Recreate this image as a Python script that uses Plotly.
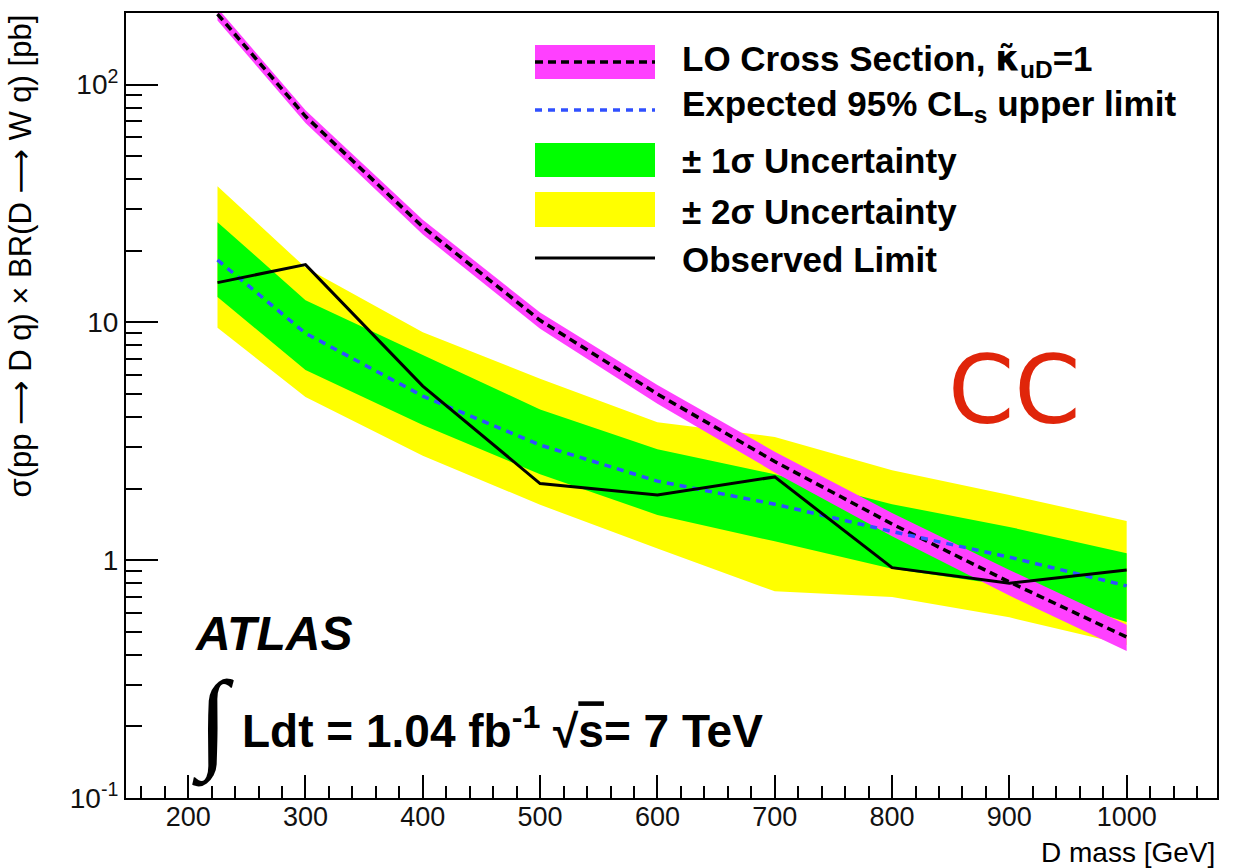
import plotly.graph_objects as go

# ---------------- data ----------------
mass = [225, 300, 400, 500, 600, 700, 800, 900, 1000]

lo_xsec = [198, 73.5, 25.2, 10.2, 5.0, 2.6, 1.42, 0.81, 0.475]
lo_xsec_up = [210, 78.0, 27.0, 11.0, 5.45, 2.86, 1.58, 0.91, 0.535]
lo_xsec_dn = [186, 69.0, 23.4, 9.4, 4.55, 2.34, 1.26, 0.71, 0.415]

exp_limit = [18.3, 9.0, 4.9, 3.05, 2.15, 1.72, 1.32, 1.03, 0.78]
obs_limit = [14.7, 17.5, 5.4, 2.1, 1.88, 2.24, 0.93, 0.80, 0.91]

one_sigma_up = [26.4, 12.4, 7.3, 4.3, 2.93, 2.3, 1.72, 1.38, 1.07]
one_sigma_dn = [12.8, 6.3, 3.7, 2.3, 1.55, 1.2, 0.92, 0.78, 0.55]
two_sigma_up = [37.4, 17.0, 9.1, 5.8, 3.8, 3.3, 2.39, 1.88, 1.46]
two_sigma_dn = [9.5, 4.85, 2.75, 1.71, 1.12, 0.74, 0.70, 0.575, 0.44]

x_ticks = [200, 300, 400, 500, 600, 700, 800, 900, 1000]
y_ticks = [0.1, 1, 10, 100]
y_tick_text = ["10<sup>-1</sup>", "1", "10", "10<sup>2</sup>"]
y_minor = [m * d for d in (0.1, 1, 10) for m in range(2, 10)] + [200]

legend_labels = [
    "LO Cross Section, <span style='font-family:DejaVu Sans'>κ̃</span><sub>uD</sub>=1",
    "Expected 95% CL<sub>s</sub> upper limit",
    "± 1σ Uncertainty",
    "± 2σ Uncertainty",
    "Observed Limit",
]

# ---------------- styling ----------------
FONT = "Liberation Sans, Arial, Helvetica, sans-serif"
W, H = 1237, 868
L, R, T, B = 126, 1217, 13, 798   # frame edges in pixels

MAGENTA = "#ff40ff"
GREEN = "#00ff00"
YELLOW = "#ffff00"
BLUE = "#3050ff"


def px(x):
    return (x - L) / (R - L)


def py(y):
    return (B - y) / (B - T)


def band(lo, hi, color):
    return go.Scatter(
        x=mass + mass[::-1], y=hi + lo[::-1], fill="toself",
        fillcolor=color, line=dict(width=0), mode="lines",
        hoverinfo="skip", showlegend=False)


fig = go.Figure()
fig.add_trace(band(two_sigma_dn, two_sigma_up, YELLOW))
fig.add_trace(band(one_sigma_dn, one_sigma_up, GREEN))
fig.add_trace(band(lo_xsec_dn, lo_xsec_up, MAGENTA))
fig.add_trace(go.Scatter(x=mass, y=lo_xsec, mode="lines",
                         line=dict(color="black", width=3.5, dash="8px,5px"),
                         showlegend=False))
fig.add_trace(go.Scatter(x=mass, y=exp_limit, mode="lines",
                         line=dict(color=BLUE, width=3.5, dash="7px,6px"),
                         showlegend=False))
fig.add_trace(go.Scatter(x=mass, y=obs_limit, mode="lines",
                         line=dict(color="black", width=3),
                         showlegend=False))

# ---------------- legend (drawn by hand) ----------------
shapes = []
annotations = []
sw_x0, sw_x1 = 535, 655
text_x = 680
rows_y = [62, 110, 160, 210, 258]

shapes.append(dict(type="rect", xref="paper", yref="paper",
                   x0=px(sw_x0), x1=px(sw_x1), y0=py(79), y1=py(45),
                   fillcolor=MAGENTA, line=dict(width=0)))
shapes.append(dict(type="line", xref="paper", yref="paper",
                   x0=px(sw_x0), x1=px(sw_x1), y0=py(rows_y[0]), y1=py(rows_y[0]),
                   line=dict(color="black", width=3.5, dash="8px,5px")))
shapes.append(dict(type="line", xref="paper", yref="paper",
                   x0=px(sw_x0), x1=px(sw_x1), y0=py(rows_y[1]), y1=py(rows_y[1]),
                   line=dict(color=BLUE, width=3.5, dash="7px,6px")))
shapes.append(dict(type="rect", xref="paper", yref="paper",
                   x0=px(sw_x0), x1=px(sw_x1), y0=py(177), y1=py(143),
                   fillcolor=GREEN, line=dict(width=0)))
shapes.append(dict(type="rect", xref="paper", yref="paper",
                   x0=px(sw_x0), x1=px(sw_x1), y0=py(227), y1=py(192),
                   fillcolor=YELLOW, line=dict(width=0)))
shapes.append(dict(type="line", xref="paper", yref="paper",
                   x0=px(sw_x0), x1=px(sw_x1), y0=py(rows_y[4]), y1=py(rows_y[4]),
                   line=dict(color="black", width=3)))

for label, yc in zip(legend_labels, [61, 106, 161, 211, 259]):
    annotations.append(dict(xref="paper", yref="paper", x=px(text_x), y=py(yc),
                            xanchor="left", yanchor="middle", showarrow=False,
                            text="<b>" + label + "</b>",
                            font=dict(family=FONT, size=35, color="black")))

# ---------------- labels ----------------
annotations.append(dict(xref="paper", yref="paper", x=px(193), y=py(633),
                        xanchor="left", yanchor="middle", showarrow=False,
                        text="<b><i>ATLAS</i></b>",
                        font=dict(family=FONT, size=48, color="black")))
annotations.append(dict(xref="paper", yref="paper", x=px(190), y=py(723),
                        xanchor="left", yanchor="middle", showarrow=False,
                        text="∫", font=dict(family="Liberation Serif", size=110, color="black")))
annotations.append(dict(xref="paper", yref="paper", x=px(240), y=py(728),
                        xanchor="left", yanchor="middle", showarrow=False,
                        text="<b>Ldt = 1.04 fb<sup>-1</sup> √<span style='text-decoration:overline'>s</span>= 7 TeV</b>",
                        font=dict(family=FONT, size=46, color="black")))
annotations.append(dict(xref="paper", yref="paper", x=px(1014), y=py(390),
                        xanchor="center", yanchor="middle", showarrow=False,
                        text="CC", font=dict(family="DejaVu Sans", size=95, color="#e0250a")))
annotations.append(dict(xref="paper", yref="paper", x=1.0, y=py(852),
                        xanchor="right", yanchor="middle", showarrow=False,
                        text="D mass [GeV]", font=dict(family=FONT, size=28, color="black")))
arrow = "<span style='font-family:DejaVu Sans'>⟶</span>"
annotations.append(dict(xref="paper", yref="paper", x=px(19), y=1.0,
                        xanchor="center", yanchor="top", showarrow=False, textangle=-90,
                        text=f"σ(pp {arrow} D q) × BR(D {arrow} W q) [pb]",
                        font=dict(family=FONT, size=31, color="black")))

fig.update_layout(
    width=W, height=H,
    margin=dict(l=L, r=W - R, t=T, b=H - B, pad=0),
    paper_bgcolor="white", plot_bgcolor="white",
    showlegend=False,
    shapes=shapes, annotations=annotations,
    xaxis=dict(range=[147, 1077], tickvals=x_ticks, ticks="inside", ticklen=23,
               tickwidth=1.5, tickcolor="black", showline=True, mirror=True,
               linecolor="black", linewidth=2, showgrid=False, zeroline=False,
               ticklabelstandoff=-6,
               tickfont=dict(family=FONT, size=27, color="#111"),
               minor=dict(dtick=20, tick0=0, ticks="inside", ticklen=12,
                          tickwidth=1.5, tickcolor="black", showgrid=False)),
    yaxis=dict(type="log", range=[-1, 2.30103], tickvals=y_ticks, ticktext=y_tick_text,
               ticks="inside", ticklen=32, tickwidth=1.5, tickcolor="black",
               showline=True, mirror=True, linecolor="black", linewidth=2,
               showgrid=False, zeroline=False,
               tickfont=dict(family=FONT, size=28, color="#111"),
               minor=dict(tickvals=y_minor, ticks="inside", ticklen=16,
                          tickwidth=1.5, tickcolor="black", showgrid=False)),
)

fig.write_html("out.html")
